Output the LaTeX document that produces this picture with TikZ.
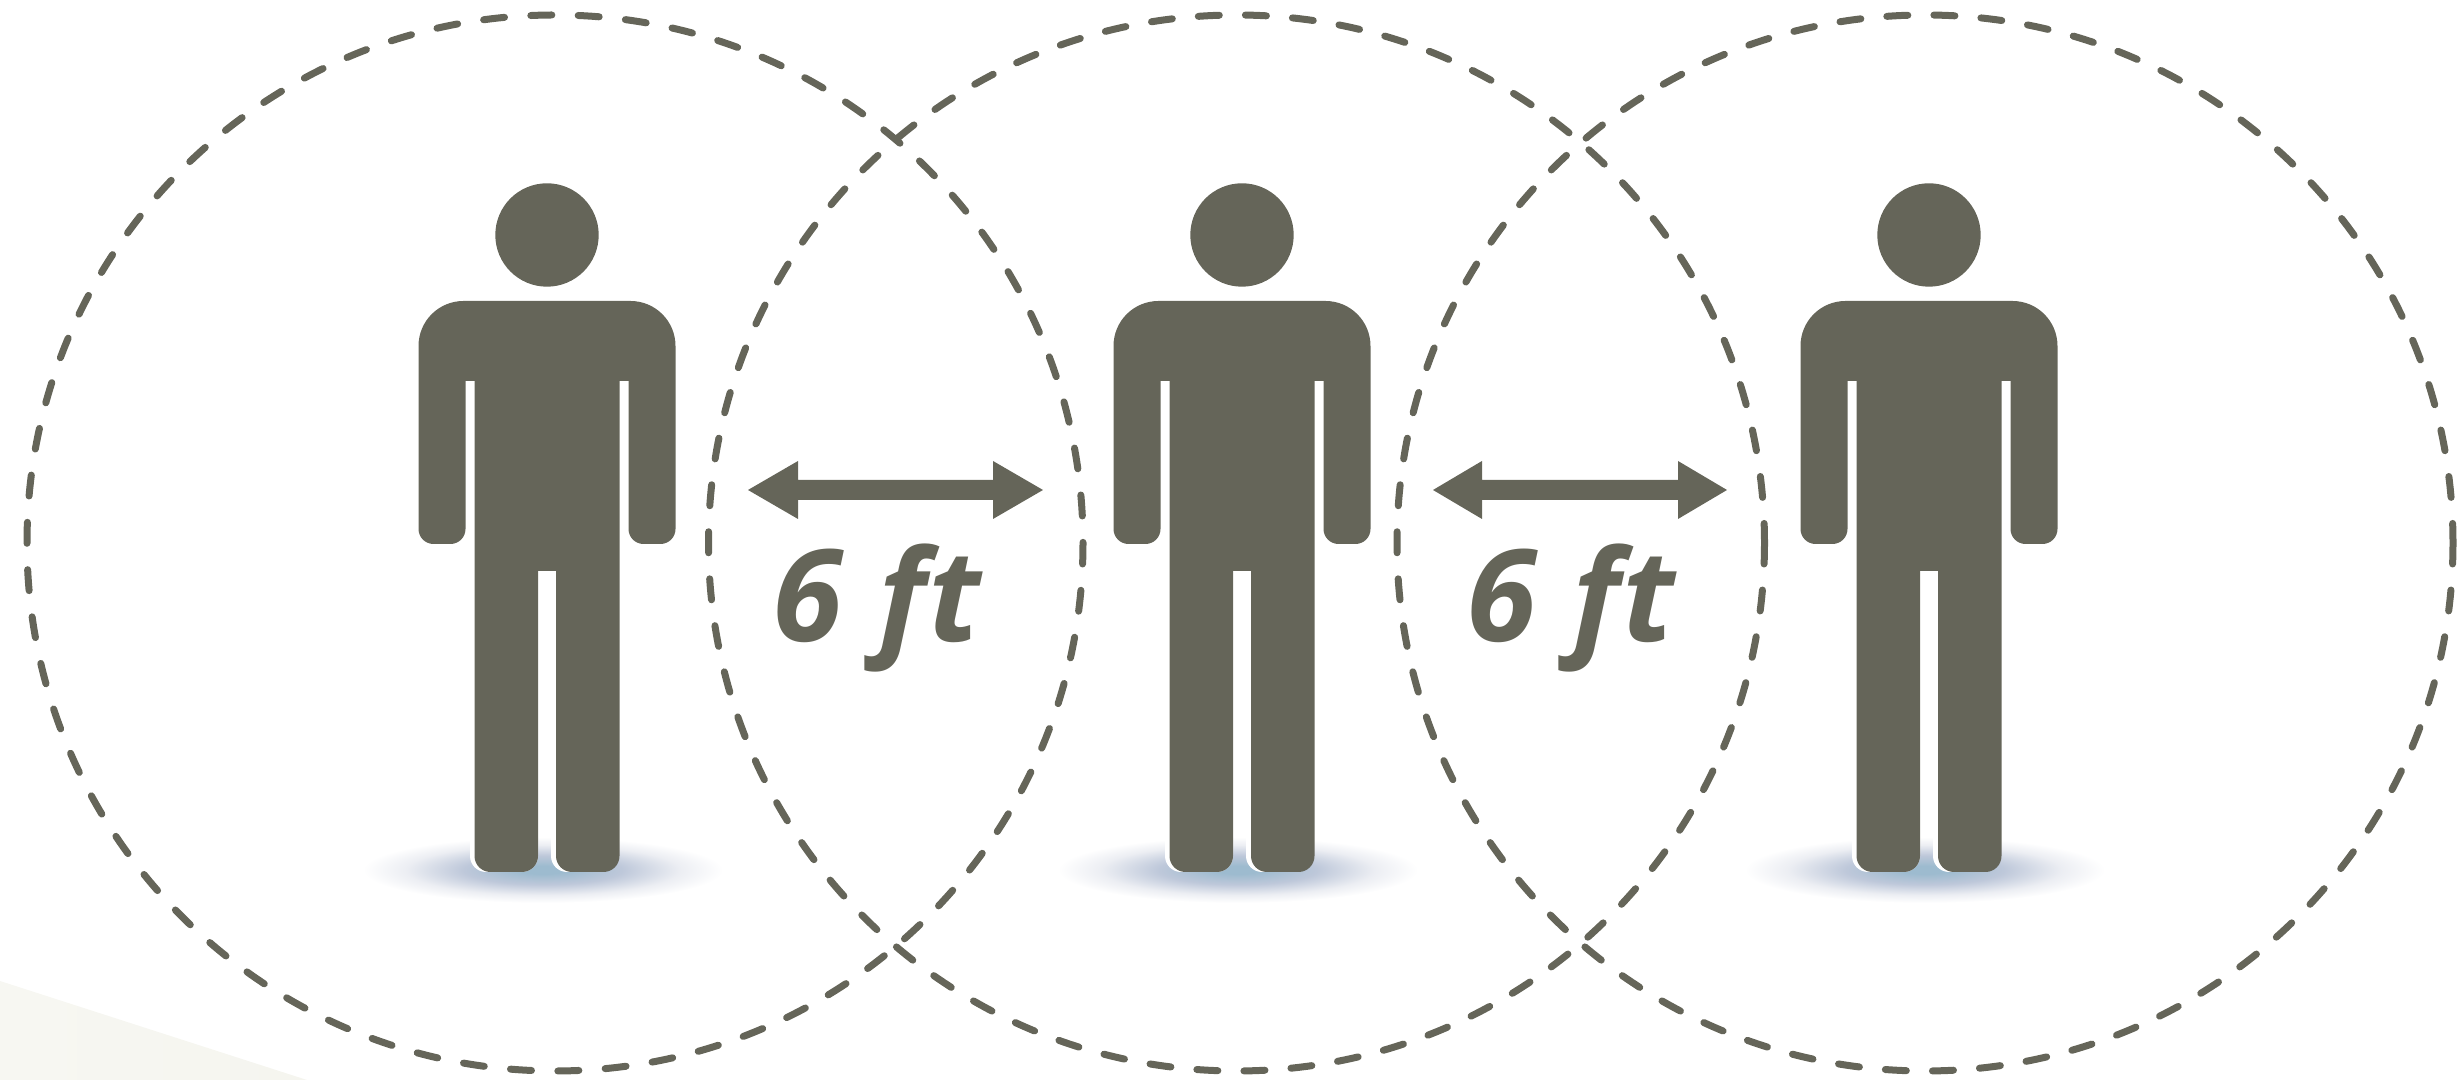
\documentclass[tikz,border=0pt]{standalone}
\usepackage{fontspec}
\usepackage{xcolor}
\newfontfamily\labelfont[LetterSpace=2]{Open Sans}
\definecolor{figman}{RGB}{101,101,89}
\definecolor{figfloor}{RGB}{245,245,239}
\definecolor{figglowa}{RGB}{157,187,207}
\definecolor{figglowb}{RGB}{190,200,218}
\definecolor{figglowc}{RGB}{236,238,243}
\pgfdeclareradialshading{figshadow}{\pgfpointorigin}{
  color(0bp)=(figglowa);
  color(3bp)=(figglowa);
  color(11bp)=(figglowb);
  color(19bp)=(figglowc);
  color(25bp)=(white);
  color(50bp)=(white)}
\tikzset{
  ring/.style   ={draw=figman, line width=0.07cm, line cap=round, dash pattern=on 0.21cm off #1},
  man/.style    ={fill=figman},
  underlay/.style={fill=white},
  glow/.style   ={shading=figshadow},
  dbl/.style    ={fill=figman},
  lab/.style    ={font=\labelfont\fontsize{36.3}{40}\selectfont\bfseries\itshape, text=figman, inner sep=0pt, anchor=base west},
}
\begin{document}
\begin{tikzpicture}[scale=1]
  \useasboundingbox (0,0) rectangle (24.58,10.8);
  \shade[left color=figfloor!80!white,right color=figfloor] (0,0.99) -- (3.07,0) -- (0,0) -- cycle;
  % left man
  \begin{scope}[xshift=5.47cm]
  \path[glow] (-0.04,2.10) ellipse (1.8 and 0.33);
  \fill[underlay,rounded corners=0.16cm] (-0.77,2.6) -- (-0.77,2.08) -- (-0.09,2.08) -- (-0.09,2.6) -- cycle;
  \fill[underlay,rounded corners=0.16cm] (0.04,2.6) -- (0.04,2.08) -- (0.6,2.08) -- (0.6,2.6) -- cycle;
  \fill[man] (0,8.45) circle (0.517);
  \fill[man] (-0.09,5.09) -- (0.09,5.09) [rounded corners=0.16cm] -- (0.09,2.08) -- (0.725,2.08) [sharp corners] -- (0.725,6.99) -- (0.815,6.99) [rounded corners=0.15cm] -- (0.815,5.36) -- (1.285,5.36) [rounded corners=0.45cm] -- (1.285,7.79) -- (-1.285,7.79) [rounded corners=0.15cm] -- (-1.285,5.36) -- (-0.815,5.36) [sharp corners] -- (-0.815,6.99) -- (-0.725,6.99) [rounded corners=0.16cm] -- (-0.725,2.08) -- (-0.09,2.08) [sharp corners] -- cycle;
  \end{scope}
  % middle man
  \begin{scope}[xshift=12.42cm]
  \path[glow] (-0.04,2.10) ellipse (1.8 and 0.33);
  \fill[underlay,rounded corners=0.16cm] (-0.77,2.6) -- (-0.77,2.08) -- (-0.09,2.08) -- (-0.09,2.6) -- cycle;
  \fill[underlay,rounded corners=0.16cm] (0.04,2.6) -- (0.04,2.08) -- (0.6,2.08) -- (0.6,2.6) -- cycle;
  \fill[man] (0,8.45) circle (0.517);
  \fill[man] (-0.09,5.09) -- (0.09,5.09) [rounded corners=0.16cm] -- (0.09,2.08) -- (0.725,2.08) [sharp corners] -- (0.725,6.99) -- (0.815,6.99) [rounded corners=0.15cm] -- (0.815,5.36) -- (1.285,5.36) [rounded corners=0.45cm] -- (1.285,7.79) -- (-1.285,7.79) [rounded corners=0.15cm] -- (-1.285,5.36) -- (-0.815,5.36) [sharp corners] -- (-0.815,6.99) -- (-0.725,6.99) [rounded corners=0.16cm] -- (-0.725,2.08) -- (-0.09,2.08) [sharp corners] -- cycle;
  \end{scope}
  % right man
  \begin{scope}[xshift=19.29cm]
  \path[glow] (-0.04,2.10) ellipse (1.8 and 0.33);
  \fill[underlay,rounded corners=0.16cm] (-0.77,2.6) -- (-0.77,2.08) -- (-0.09,2.08) -- (-0.09,2.6) -- cycle;
  \fill[underlay,rounded corners=0.16cm] (0.04,2.6) -- (0.04,2.08) -- (0.6,2.08) -- (0.6,2.6) -- cycle;
  \fill[man] (0,8.45) circle (0.517);
  \fill[man] (-0.09,5.09) -- (0.09,5.09) [rounded corners=0.16cm] -- (0.09,2.08) -- (0.725,2.08) [sharp corners] -- (0.725,6.99) -- (0.815,6.99) [rounded corners=0.15cm] -- (0.815,5.36) -- (1.285,5.36) [rounded corners=0.45cm] -- (1.285,7.79) -- (-1.285,7.79) [rounded corners=0.15cm] -- (-1.285,5.36) -- (-0.815,5.36) [sharp corners] -- (-0.815,6.99) -- (-0.725,6.99) [rounded corners=0.16cm] -- (-0.725,2.08) -- (-0.09,2.08) [sharp corners] -- cycle;
  \end{scope}
  % dashed rings
  \draw[ring=0.2639cm] (10.83,5.37) arc (0:-360:5.28);
  \draw[ring=0.2612cm] (17.645,5.37) arc (0:-360:5.28);
  \draw[ring=0.2612cm] (24.53,5.37) arc (0:-360:5.28);
  % distance arrows
  \fill[dbl] (7.48,5.90) -- (7.98,6.19) -- (7.98,6.0) -- (9.93,6.0) -- (9.93,6.19) -- (10.43,5.90) -- (9.93,5.61) -- (9.93,5.8) -- (7.98,5.8) -- (7.98,5.61) -- cycle;
  \fill[dbl] (14.33,5.90) -- (14.82,6.19) -- (14.82,6.0) -- (16.78,6.0) -- (16.78,6.19) -- (17.27,5.90) -- (16.78,5.61) -- (16.78,5.8) -- (14.82,5.8) -- (14.82,5.61) -- cycle;
  \node[lab] (gapa) at (7.72,4.38) {6 ft};
  \node[lab] (gapb) at (14.66,4.38) {6 ft};
\end{tikzpicture}
\end{document}
